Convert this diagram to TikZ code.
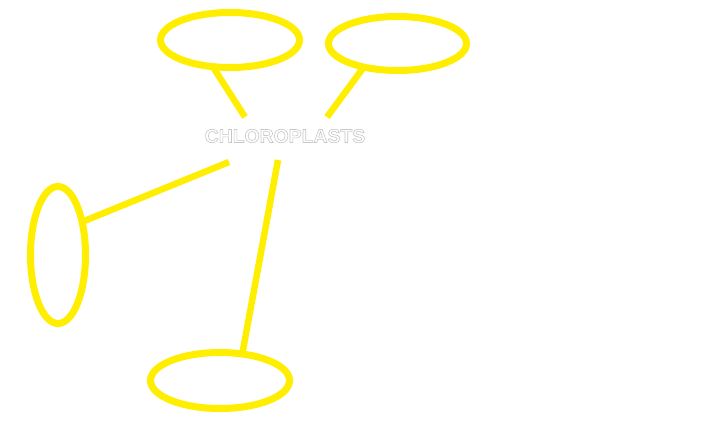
\documentclass[tikz,border=0pt]{standalone}
\usepackage{fontspec}
\setmainfont{Liberation Sans}
\usetikzlibrary{shapes.geometric}
\definecolor{chlyellow}{RGB}{255,238,0}
\newcommand{\hollowtext}[1]{\special{pdf:code q 2 Tr 0.6 w 0.78 G 1 g}#1\special{pdf:code Q}}

\begin{document}
\begin{tikzpicture}[x=1pt,y=-1pt]
        \tikzset{Bubble/.style = {ellipse,
            draw       = chlyellow,
            line width = 7pt,
            inner sep  = 0pt,
            outer sep  = 0pt},
          LinkStyle/.style = {draw = chlyellow,
            line width = 6.5pt}}
        \fill[white] (0,0) rectangle (708,426);
        \useasboundingbox (0,0) rectangle (708,426);
        \node[font=\fontsize{19}{19}\selectfont\bfseries, xscale=1.02] (CHL) at (285,136) {\hollowtext{CHLOROPLASTS}};
        \node[Bubble, minimum width=139pt, minimum height=55pt] (TL) at (230,40) {};
        \node[Bubble, minimum width=138pt, minimum height=54pt] (TR) at (397.5,43.5) {};
        \node[Bubble, minimum width=55pt, minimum height=137pt] (LE) at (58,255) {};
        \node[Bubble, minimum width=139pt, minimum height=56pt] (BO) at (220,380.5) {};
        \coordinate (CHLtl) at (245,117);
        \coordinate (CHLtr) at (327,117);
        \coordinate (CHLle) at (229,162);
        \coordinate (CHLbo) at (278,160);
        \draw[LinkStyle] (TL.237) -- (CHLtl);
        \draw[LinkStyle] (TR.215) -- (CHLtr);
        \draw[LinkStyle] (LE.54) -- (CHLle);
        \draw[LinkStyle] (BO.50) -- (CHLbo);
      \end{tikzpicture}
\end{document}
